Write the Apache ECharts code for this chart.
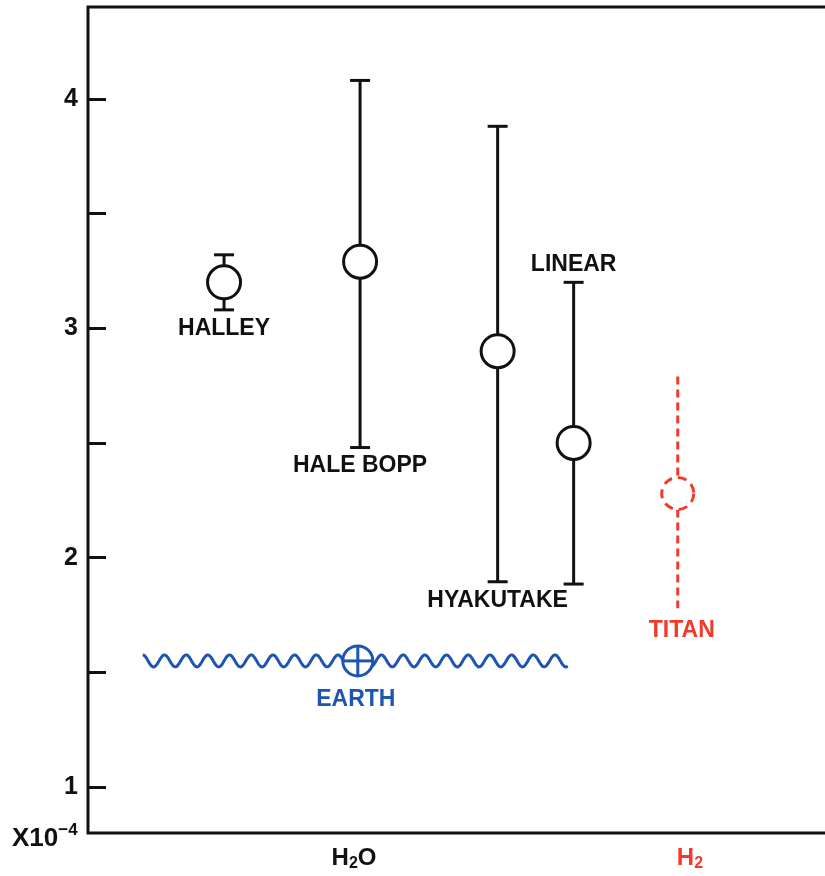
<!DOCTYPE html>
<html><head><meta charset="utf-8">
<script src="https://cdn.jsdelivr.net/npm/echarts@6/dist/echarts.min.js"></script>
<style>html,body{margin:0;padding:0;background:#fff;overflow:hidden}#c{width:870px;height:876px}</style>
</head><body><div id="c"></div>
<script>
// ---- data (D/H ratio, x10^-4) ----
const comets = ['HALLEY', 'HALE BOPP', 'HYAKUTAKE', 'LINEAR'];
const cometX = [1.79, 3.58, 5.39, 6.39];
const cometValue = [3.20, 3.29, 2.90, 2.50];
const cometLow = [3.08, 2.48, 1.895, 1.885];
const cometHigh = [3.32, 4.08, 3.88, 3.20];
const cometLabelSide = ['below', 'below', 'below', 'above'];

const titanName = 'TITAN';
const titanX = 7.76;
const titanValue = 2.28;
const titanLow = 1.78;
const titanHigh = 2.79;

const earthName = 'EARTH';
const earthX = 3.55;
const earthValue = 1.55;
const earthSpan = [0.72, 6.32];

const yTickValues = [1, 1.5, 2, 2.5, 3, 3.5, 4];
const yLabelValues = [1, 2, 3, 4];
const xCategoryPos = [3.5, 7.92];
const xCategoryRich = ['{k|H}{ks|2}{k|O}', '{r|H}{rs|2}'];
const yUnitText = ['X10', '−4'];

// ---- styles ----
const INK = '#111111';
const BLUE = '#1d55b0';
const RED = '#f23a2a';
const FONT = '"Liberation Sans", Arial, sans-serif';

const chart = echarts.init(document.getElementById('c'), null, {renderer: 'canvas'});

const cometData = comets.map((n, i) => [cometX[i], cometValue[i], cometLow[i], cometHigh[i]]);

function textEl(x, y, txt, color, vAlign) {
  return {
    type: 'text',
    style: {
      x: x, y: y, text: txt, fill: color,
      font: 'bold 23px ' + FONT,
      textAlign: 'center', textVerticalAlign: vAlign
    }
  };
}

const option = {
  backgroundColor: '#fff',
  animation: false,
  grid: {
    left: 88, top: 7, width: 760, height: 826,
    show: true, borderColor: INK, borderWidth: 3, containLabel: false
  },
  xAxis: {
    type: 'value', min: 0, max: 10,
    axisLine: {show: false}, axisTick: {show: false}, splitLine: {show: false},
    axisLabel: {
      customValues: xCategoryPos,
      margin: 11,
      formatter: function (v) {
        const i = xCategoryPos.indexOf(v);
        return i >= 0 ? xCategoryRich[i] : '';
      },
      rich: {
        k: {fontSize: 24, fontWeight: 'bold', fontFamily: FONT, color: INK, lineHeight: 28},
        ks: {fontSize: 16, fontWeight: 'bold', fontFamily: FONT, color: INK, verticalAlign: 'bottom', lineHeight: 28, padding: [12, 0, 0, 0]},
        r: {fontSize: 24, fontWeight: 'bold', fontFamily: FONT, color: RED, lineHeight: 28},
        rs: {fontSize: 16, fontWeight: 'bold', fontFamily: FONT, color: RED, verticalAlign: 'bottom', lineHeight: 28, padding: [12, 0, 0, 0]}
      }
    }
  },
  yAxis: {
    type: 'value', min: 0.8, max: 4.4,
    axisLine: {show: false}, splitLine: {show: false},
    axisTick: {show: true, inside: true, length: 18, customValues: yTickValues, lineStyle: {color: INK, width: 3}},
    axisLabel: {
      customValues: yLabelValues, margin: 10,
      fontSize: 25, fontWeight: 'bold', fontFamily: FONT, color: INK
    }
  },
  graphic: [{
    type: 'text', left: 12, top: 822,
    style: {
      text: '{a|' + yUnitText[0] + '}{b|' + yUnitText[1] + '}',
      rich: {
        a: {fontSize: 26, fontWeight: 'bold', fontFamily: FONT, fill: INK, verticalAlign: 'bottom', lineHeight: 30},
        b: {fontSize: 17, fontWeight: 'bold', fontFamily: FONT, fill: INK, verticalAlign: 'top', lineHeight: 30, padding: [0, 0, 12, 0]}
      }
    }
  }],
  series: [
    {
      type: 'custom',
      name: 'comet error bars',
      data: cometData,
      z: 2,
      renderItem: function (params, api) {
        const i = params.dataIndex;
        const x = api.value(0), lo = api.value(2), hi = api.value(3);
        const pHi = api.coord([x, hi]);
        const pLo = api.coord([x, lo]);
        const cw = 10;
        const ls = {stroke: INK, lineWidth: 3};
        const children = [
          {type: 'line', shape: {x1: pHi[0], y1: pHi[1], x2: pLo[0], y2: pLo[1]}, style: ls},
          {type: 'line', shape: {x1: pHi[0] - cw, y1: pHi[1], x2: pHi[0] + cw, y2: pHi[1]}, style: ls},
          {type: 'line', shape: {x1: pLo[0] - cw, y1: pLo[1], x2: pLo[0] + cw, y2: pLo[1]}, style: ls}
        ];
        if (cometLabelSide[i] === 'below') {
          children.push(textEl(pLo[0], pLo[1] + 7, comets[i], INK, 'top'));
        } else {
          children.push(textEl(pHi[0], pHi[1] - 6, comets[i], INK, 'bottom'));
        }
        return {type: 'group', children: children};
      }
    },
    {
      type: 'scatter',
      name: 'comets',
      data: cometData.map(d => [d[0], d[1]]),
      symbol: 'circle', symbolSize: 33, z: 3,
      itemStyle: {color: '#fff', borderColor: INK, borderWidth: 3, opacity: 1}
    },
    {
      type: 'custom',
      name: 'titan',
      data: [[titanX, titanValue, titanLow, titanHigh]],
      z: 2,
      renderItem: function (params, api) {
        const x = api.value(0), v = api.value(1), lo = api.value(2), hi = api.value(3);
        const pHi = api.coord([x, hi]), pC = api.coord([x, v]), pLo = api.coord([x, lo]);
        const r = 16;
        const ls = {stroke: RED, lineWidth: 3, lineDash: [8, 5]};
        return {type: 'group', children: [
          {type: 'line', shape: {x1: pHi[0], y1: pHi[1], x2: pC[0], y2: pC[1] - r}, style: ls},
          {type: 'line', shape: {x1: pC[0], y1: pC[1] + r, x2: pLo[0], y2: pLo[1]}, style: ls},
          {type: 'circle', shape: {cx: pC[0], cy: pC[1], r: r}, style: {fill: '#fff', stroke: RED, lineWidth: 3, lineDash: [9, 6]}},
          textEl(pLo[0] + 4, pLo[1] + 11, titanName, RED, 'top')
        ]};
      }
    },
    {
      type: 'custom',
      name: 'earth',
      data: [[earthSpan[0], earthSpan[1], earthValue, earthX]],
      z: 2,
      renderItem: function (params, api) {
        const a = api.value(0), b = api.value(1), v = api.value(2), ex = api.value(3);
        const p0 = api.coord([a, v]), p1 = api.coord([b, v]), pc = api.coord([ex, v]);
        const period = 21.7, amp = 6;
        const pts = [];
        for (let px = p0[0]; px <= p1[0]; px += 1) {
          pts.push([px, p0[1] - amp * Math.cos(2 * Math.PI * (px - p0[0]) / period)]);
        }
        const r = 15;
        const st = {stroke: BLUE, lineWidth: 3, fill: null};
        return {type: 'group', children: [
          {type: 'polyline', shape: {points: pts}, style: {stroke: BLUE, lineWidth: 3, fill: null}},
          {type: 'circle', shape: {cx: pc[0], cy: pc[1], r: r}, style: {fill: '#fff', stroke: BLUE, lineWidth: 3}},
          {type: 'line', shape: {x1: pc[0] - r, y1: pc[1], x2: pc[0] + r, y2: pc[1]}, style: st},
          {type: 'line', shape: {x1: pc[0], y1: pc[1] - r, x2: pc[0], y2: pc[1] + r}, style: st},
          textEl(pc[0] - 2, pc[1] + 27, earthName, BLUE, 'top')
        ]};
      }
    }
  ]
};
chart.setOption(option);
</script>
</body></html>
